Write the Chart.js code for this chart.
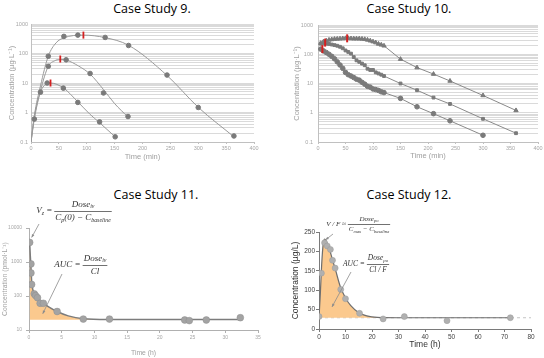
<!DOCTYPE html>
<html>
<head>
<meta charset="utf-8">
<script src="https://cdn.jsdelivr.net/npm/chart.js@4.4.1/dist/chart.umd.min.js"></script>
<style>
  body { margin: 0; background: #fff; width: 544px; height: 358px; position: relative; overflow: hidden; }
  canvas { position: absolute; }
  .ttl { position: absolute; font-family: "Open Sans", sans-serif; font-weight: 400; font-size: 12.5px; color: #000; transform: translate(-50%, -50%); white-space: nowrap; }
</style>
</head>
<body>
<div class="ttl" style="left:152px;top:8px">Case Study 9.</div>
<div class="ttl" style="left:409px;top:8px">Case Study 10.</div>
<div class="ttl" style="left:156px;top:194px">Case Study 11.</div>
<div class="ttl" style="left:409px;top:194px">Case Study 12.</div>
<canvas id="c9" width="272" height="179" style="left:0;top:0"></canvas>
<canvas id="c10" width="272" height="179" style="left:272px;top:0"></canvas>
<canvas id="c11" width="272" height="179" style="left:0;top:179px"></canvas>
<canvas id="c12" width="272" height="179" style="left:272px;top:179px"></canvas>
<script>
// --- Case Study 9 data ---
const t9Hi = [31, 59, 84, 133, 175, 244, 300, 364];
const c9Hi = [81, 380, 420, 350, 187, 18.6, 1.48, 0.16];
const t9Mid = [31, 63, 106, 130, 174];
const c9Mid = [37, 61, 21, 4.6, 0.73];
const t9Lo = [6, 17, 29, 58, 84, 123, 151];
const c9Lo = [0.6, 4.9, 10, 6.7, 2.2, 0.48, 0.15];
const fit9HiT = [0, 6, 17, 31, 45, 59, 94, 133, 175, 244, 300, 364];
const fit9HiC = [0.1, 0.8, 8, 81, 230, 340, 420, 345, 190, 18, 1.5, 0.15];
const fit9MidT = [0, 6, 17, 31, 42, 52, 63, 85, 106, 130, 150, 174];
const fit9MidC = [0.1, 0.7, 5.5, 37, 56, 63, 60, 38, 20, 6, 2, 0.7];
const fit9LoT = [0, 6, 17, 29, 35, 58, 84, 105, 123, 151];
const fit9LoC = [0.1, 0.6, 4.9, 9.5, 10, 6.8, 2.3, 0.9, 0.45, 0.15];
const tmax9T = [94, 52.5, 35];
const tmax9C = [420, 65, 10];
const yMajor9 = [0.1, 1, 10, 100, 1000];

// --- Case Study 10 data ---
const t10 = [5, 10, 15, 20, 25, 30, 35, 40, 45, 50, 55, 60, 65, 70, 75, 80, 85, 90, 95, 100, 105, 110, 115, 120, 150, 180, 210, 240, 300, 360];
const c10Top = [240, 270, 290, 310, 320, 330, 335, 340, 345, 350, 350, 345, 340, 340, 340, 335, 325, 310, 290, 270, 250, 225, 210, 195, 68, 35, 21, 12.2, 3.9, 1.2];
const c10Mid = [230, 235, 230, 225, 215, 205, 195, 180, 160, 135, 120, 105, 80, 62, 55, 48, 42, 32, 29, 29, 24, 22, 20, 18, 10, 5.9, 3.3, 2.0, 0.62, 0.2];
const c10Low = [150, 130, 115, 100, 85, 70, 55, 43, 33, 24, 20, 18, 16, 14, 13, 11, 9.5, 8, 7.5, 6.5, 6.2, 5.8, 5.2, 4.9, 3.1, 1.6, 0.93, 0.53, 0.17];
const tmax10T = [8, 13, 53];
const tmax10C = [150, 250, 350];
const yMajor10 = [0.1, 1, 10, 100, 1000];

// --- Case Study 11 data ---
const t11 = [0.1, 0.3, 0.3, 0.4, 0.8, 1.0, 1.3, 1.7, 2.2, 4.3, 8.3, 12.3, 23.8, 24.5, 27.1, 32.3];
const c11 = [3760, 880, 475, 218, 116, 103, 89, 61, 61, 35, 21, 21, 19.7, 18.9, 19.7, 23];
const fit11T = [0.1, 0.2, 0.3, 0.4, 0.6, 0.9, 1.3, 2, 3, 4.3, 6, 8.3, 12, 32.3];
const fit11C = [3760, 1500, 700, 280, 150, 110, 90, 66, 48, 35, 26, 21.5, 20.5, 20.5];
const base11 = 20;
const yMajor11 = [10, 100, 1000, 10000];

// --- Case Study 12 data ---
const t12 = [0, 0.9, 2.1, 3.1, 4.3, 5.1, 6.1, 8.2, 10, 15.3, 24.2, 32.2, 48.3, 72.2];
const c12 = [32, 144, 222, 214, 205, 177, 157, 102, 78, 40.5, 26, 32, 21.5, 29];
const fit12T = [0, 0.5, 1, 1.6, 2.2, 3, 4, 5, 6, 8, 10, 12, 15, 18, 22, 30, 72.2];
const fit12C = [29, 90, 165, 220, 232, 222, 205, 180, 158, 110, 80, 60, 42, 34, 30, 29, 29];
const base12 = 29;

const pts = (xs, ys) => xs.map((x, i) => ({ x: x, y: ys[i] }));
function logTicks(majors) {
    const out = [];
    for (let i = 0; i < majors.length - 1; i++) {
        for (let k = 1; k < 10; k++) out.push(majors[i] * k);
    }
    out.push(majors[majors.length - 1]);
    return out;
}
const sans = 'Liberation Sans';
const serif = 'Liberation Serif';

// axis builder; o holds the layout numbers of one panel
function axes(o) {
    return {
        x: {
            type: 'linear', min: o.xMin, max: o.xMax,
            ticks: { stepSize: o.xStep, color: o.tickColor, font: { family: sans, size: o.tickFont }, padding: o.xPad, maxRotation: 0, autoSkip: false },
            grid: { drawOnChartArea: false, drawTicks: true, tickLength: o.xTick, color: o.axisColor },
            border: { color: o.axisColor },
            title: { display: true, text: o.xTitle, color: o.titleColor, font: { family: sans, size: o.titleFont }, padding: { top: 0, bottom: o.xTitlePad } },
            afterFit: s => { s.height = o.xH; }
        },
        y: {
            type: o.yType, min: o.yMin, max: o.yMax,
            afterBuildTicks: o.yTicks ? (s => { s.ticks = o.yTicks.map(v => ({ value: v })); }) : undefined,
            ticks: {
                stepSize: o.yStep, color: o.tickColor, font: { family: sans, size: o.tickFont }, padding: o.yPad, autoSkip: false,
                callback: v => (o.yLabels ? (o.yLabels.some(m => Math.abs(m - v) < m * 1e-6) ? String(v) : '') : String(v))
            },
            grid: { drawOnChartArea: o.yGrid, drawTicks: o.yTick > 0, tickLength: o.yTick, color: o.yGrid ? '#dadada' : o.axisColor },
            border: { color: o.axisColor },
            title: { display: true, text: o.yTitle, color: o.titleColor, font: { family: sans, size: o.titleFont }, padding: { top: o.yTitlePad, bottom: 0 } },
            afterFit: s => { s.width = o.yW; }
        }
    };
}

function baseOptions(o, pad) {
    return {
        responsive: false, animation: false,
        layout: { padding: pad },
        plugins: { legend: { display: false }, tooltip: { enabled: false } },
        scales: axes(o)
    };
}

// --- formula text helpers ---
function runsWidth(ctx, runs, size) {
    let w = 0;
    runs.forEach(r => {
        ctx.font = `italic ${r[1] ? size * 0.65 : size}px "${serif}"`;
        w += ctx.measureText(r[0]).width;
    });
    return w;
}
function drawRuns(ctx, runs, x, y, size) {
    runs.forEach(r => {
        ctx.font = `italic ${r[1] ? size * 0.65 : size}px "${serif}"`;
        ctx.fillText(r[0], x, r[1] ? y + size * 0.3 : y);
        x += ctx.measureText(r[0]).width;
    });
}
function formula(ctx, f) {
    ctx.save();
    ctx.fillStyle = '#333';
    ctx.strokeStyle = '#333';
    ctx.textBaseline = 'middle';
    ctx.textAlign = 'left';
    const nw = runsWidth(ctx, f.num, f.size), dw = runsWidth(ctx, f.den, f.size);
    const bw = Math.max(nw, dw) + 2;
    const left = f.cx - bw / 2;
    drawRuns(ctx, f.num, f.cx - nw / 2, f.y - f.size * 0.75, f.size);
    drawRuns(ctx, f.den, f.cx - dw / 2, f.y + f.size * 0.75, f.size);
    ctx.lineWidth = 0.7;
    ctx.beginPath(); ctx.moveTo(left, f.y + 0.5); ctx.lineTo(left + bw, f.y + 0.5); ctx.stroke();
    const lw = runsWidth(ctx, f.lhs, f.size);
    drawRuns(ctx, f.lhs, left - 2 - lw, f.y, f.size);
    ctx.restore();
}
function arrow(ctx, x0, y0, x1, y1) {
    ctx.save();
    ctx.strokeStyle = '#8c8c8c';
    ctx.fillStyle = '#8c8c8c';
    ctx.lineWidth = 0.8;
    ctx.beginPath(); ctx.moveTo(x0, y0); ctx.lineTo(x1, y1); ctx.stroke();
    const a = Math.atan2(y1 - y0, x1 - x0);
    ctx.beginPath();
    ctx.moveTo(x1, y1);
    ctx.lineTo(x1 - 3.5 * Math.cos(a - 0.4), y1 - 3.5 * Math.sin(a - 0.4));
    ctx.lineTo(x1 - 3.5 * Math.cos(a + 0.4), y1 - 3.5 * Math.sin(a + 0.4));
    ctx.closePath(); ctx.fill();
    ctx.restore();
}

const red = '#d42020';
const dark = '#7a7a7a';

// --- Case Study 9 ---
const o9 = { xMin: 0, xMax: 400, xStep: 50, tickColor: '#a6a6a6', tickFont: 5.5, xPad: 1, xTick: 2, axisColor: '#c0c0c0',
    xTitle: 'Time (min)', titleColor: '#a0a0a0', titleFont: 7.5, xTitlePad: 10.5, xH: 30,
    yType: 'logarithmic', yMin: 0.1, yMax: 1000, yTicks: logTicks(yMajor9), yLabels: yMajor9, yPad: 3, yGrid: true, yTick: 0,
    yTitle: 'Concentration (µg·L⁻¹)', yTitlePad: 7.5, yW: 31 };
new Chart(document.getElementById('c9'), {
    type: 'scatter',
    data: { datasets: [
        { data: pts(tmax9T, tmax9C), pointStyle: 'line', rotation: 90, pointRadius: 3.5, borderColor: red, pointBorderWidth: 1.8 },
        { data: pts(t9Hi, c9Hi), pointRadius: 2.3, backgroundColor: dark, borderColor: dark },
        { data: pts(t9Mid, c9Mid), pointRadius: 2.3, backgroundColor: dark, borderColor: dark },
        { data: pts(t9Lo, c9Lo), pointRadius: 2.3, backgroundColor: dark, borderColor: dark },
        { data: pts(fit9HiT, fit9HiC), showLine: true, pointRadius: 0, borderColor: '#9a9a9a', borderWidth: 1, cubicInterpolationMode: 'monotone' },
        { data: pts(fit9MidT, fit9MidC), showLine: true, pointRadius: 0, borderColor: '#9a9a9a', borderWidth: 1, cubicInterpolationMode: 'monotone' },
        { data: pts(fit9LoT, fit9LoC), showLine: true, pointRadius: 0, borderColor: '#9a9a9a', borderWidth: 1, cubicInterpolationMode: 'monotone' }
    ] },
    options: baseOptions(o9, { left: 0, top: 24, right: 18, bottom: 7 })
});

// --- Case Study 10 ---
const o10 = Object.assign({}, o9, { xTitlePad: 11.5, yPad: 5, yTitlePad: 20.5, yW: 46, yTicks: logTicks(yMajor10), yLabels: yMajor10 });
const line10 = { showLine: true, borderColor: '#8a8a8a', borderWidth: 1, backgroundColor: dark, pointBorderColor: dark };
new Chart(document.getElementById('c10'), {
    type: 'scatter',
    data: { datasets: [
        { data: pts(tmax10T, tmax10C), pointStyle: 'line', rotation: 90, pointRadius: 4, borderColor: red, pointBorderWidth: 2 },
        Object.assign({ data: pts(t10, c10Top), pointStyle: 'triangle', pointRadius: 2.5 }, line10),
        Object.assign({ data: pts(t10, c10Mid), pointStyle: 'rect', pointRadius: 2 }, line10),
        Object.assign({ data: pts(t10.slice(0, c10Low.length), c10Low), pointStyle: 'circle', pointRadius: 2.3 }, line10)
    ] },
    options: baseOptions(o10, { left: 0, top: 25, right: 6, bottom: 7 })
});

// --- Case Study 11 ---
const o11 = { xMin: 0, xMax: 35, xStep: 5, tickColor: '#a6a6a6', tickFont: 5, xPad: 2, xTick: 3, axisColor: '#b0b0b0',
    xTitle: 'Time (h)', titleColor: '#a0a0a0', titleFont: 6.8, xTitlePad: 1, xH: 28,
    yType: 'logarithmic', yMin: 10, yMax: 10000, yTicks: yMajor11, yLabels: yMajor11, yPad: 4, yGrid: false, yTick: 3,
    yTitle: 'Concentration (pmol·L⁻¹)', yTitlePad: 1, yW: 29 };
const formula11 = {
    id: 'formula11',
    afterDraw(chart) {
        const ctx = chart.ctx, sx = chart.scales.x, sy = chart.scales.y;
        formula(ctx, { cx: 83, y: 32, size: 9, lhs: [['V'], ['z', 1], [' =']], num: [['Dose'], ['iv', 1]], den: [['C'], ['p', 1], ['(0) − C'], ['baseline', 1]] });
        formula(ctx, { cx: 95, y: 86, size: 9, lhs: [['AUC =']], num: [['Dose'], ['iv', 1]], den: [['Cl']] });
        arrow(ctx, 39, 45, sx.getPixelForValue(t11[0]) + 2, sy.getPixelForValue(c11[0]) - 5);
        arrow(ctx, 62, 95, sx.getPixelForValue(2.1), sy.getPixelForValue(30));
    }
};
new Chart(document.getElementById('c11'), {
    type: 'scatter',
    data: { datasets: [
        { data: pts(t11, c11), pointRadius: 3.4, backgroundColor: '#a3a3a3', borderColor: '#8e8e8e', borderWidth: 0.5 },
        { data: pts(fit11T, fit11C), showLine: true, pointRadius: 0, borderColor: '#7c7c7c', borderWidth: 1.5, cubicInterpolationMode: 'monotone',
          fill: { value: base11 }, backgroundColor: '#fbc98e' }
    ] },
    options: baseOptions(o11, { left: 0, top: 49, right: 14, bottom: 0 }),
    plugins: [formula11]
});

// --- Case Study 12 ---
const o12 = { xMin: 0, xMax: 80, xStep: 10, tickColor: '#404040', tickFont: 6.5, xPad: 1, xTick: 3, axisColor: '#7a7a7a',
    xTitle: 'Time (h)', titleColor: '#303030', titleFont: 8.5, xTitlePad: 8, xH: 29,
    yType: 'linear', yMin: 0, yMax: 250, yStep: 50, yPad: 1, yGrid: false, yTick: 3,
    yTitle: 'Concentration (µg/L)', yTitlePad: 19, yW: 47 };
const formula12 = {
    id: 'formula12',
    afterDraw(chart) {
        const ctx = chart.ctx, sx = chart.scales.x, sy = chart.scales.y;
        formula(ctx, { cx: 97, y: 45, size: 7, lhs: [['V / F ≈']], num: [['Dose'], ['po', 1]], den: [['C'], ['max', 1], [' − C'], ['baseline', 1]] });
        formula(ctx, { cx: 106, y: 85, size: 7.5, lhs: [['AUC =']], num: [['Dose'], ['po', 1]], den: [['Cl / F']] });
        arrow(ctx, 61, 55, sx.getPixelForValue(t12[2]) + 1, sy.getPixelForValue(c12[2]) - 3);
        arrow(ctx, 79, 93, sx.getPixelForValue(4.9), sy.getPixelForValue(57));
    }
};
new Chart(document.getElementById('c12'), {
    type: 'scatter',
    data: { datasets: [
        { data: pts(t12, c12), pointRadius: 3, backgroundColor: '#b0b0b0', borderColor: '#9a9a9a', borderWidth: 0.5 },
        { data: pts(fit12T, fit12C), showLine: true, pointRadius: 0, borderColor: '#6e6e6e', borderWidth: 1.2, cubicInterpolationMode: 'monotone',
          fill: { value: base12 }, backgroundColor: '#fbc98e' },
        { data: pts([o12.xMin, o12.xMax], [base12, base12]), showLine: true, pointRadius: 0, borderColor: '#c4c4c4', borderWidth: 1, borderDash: [3, 3] }
    ] },
    options: baseOptions(o12, { left: 0, top: 53, right: 13, bottom: 0 }),
    plugins: [formula12]
});
</script>
</body>
</html>
